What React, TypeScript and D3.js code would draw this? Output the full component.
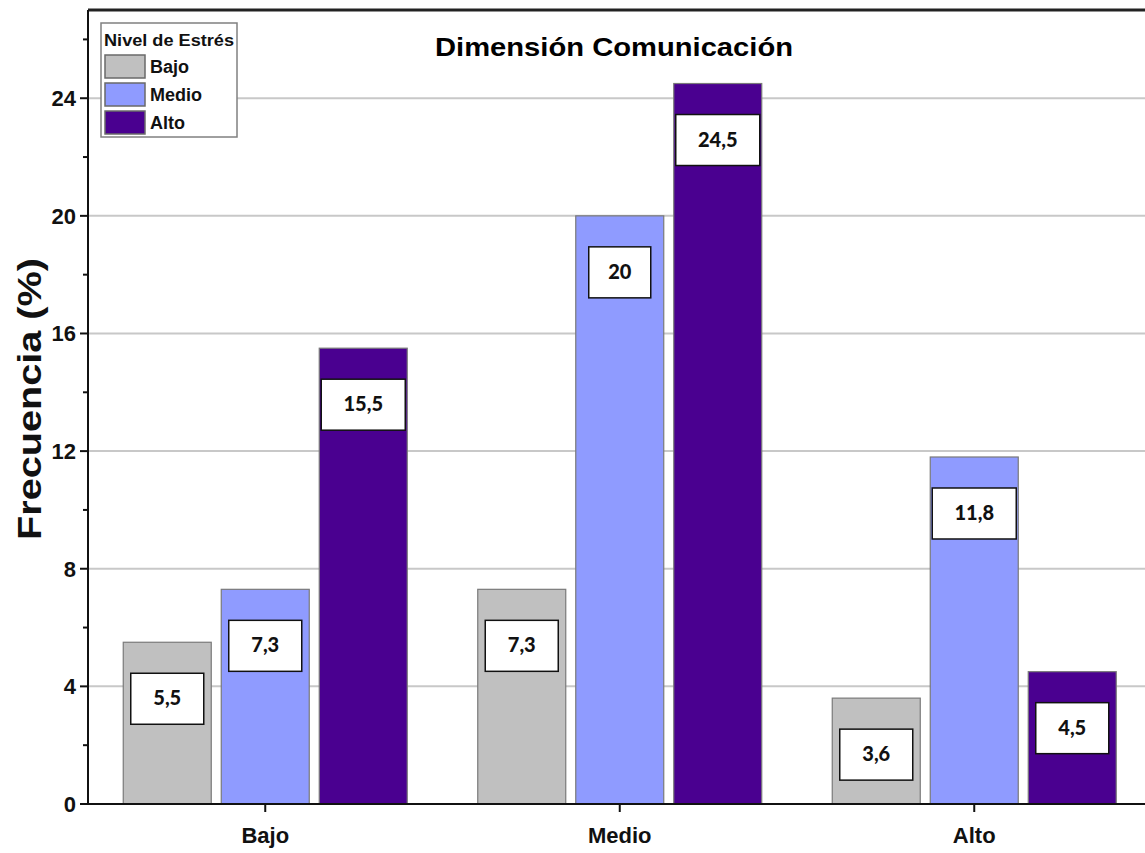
import React from 'react';
import * as d3 from 'd3';

// Dimensión Comunicación: frecuencia (%) por nivel
const categories = ['Bajo', 'Medio', 'Alto'];
const stressLevels = ['Bajo', 'Medio', 'Alto'];
const bajoValues = [5.5, 7.3, 3.6];
const medioValues = [7.3, 20, 11.8];
const altoValues = [15.5, 24.5, 4.5];
const majorTicks = [0, 4, 8, 12, 16, 20, 24];
const minorTicks = [2, 6, 10, 14, 18, 22, 26];

const seriesValues = [bajoValues, medioValues, altoValues];
const fills = ['#c0c0c0', '#8f9bff', '#4a0090'];

const W = 1145;
const H = 853;
const left = 88;
const top = 10;
const bottom = 804;
const step = 354.5;

const App: React.FC = () => {
    const x = d3.scaleBand<string>().domain(categories).range([left, left + step * 3]);
    const groupW = 284;
    const xInner = d3.scaleBand<string>().domain(stressLevels).range([0, groupW]).paddingInner(10 / 98);
    const y = d3.scaleLinear().domain([0, 27]).range([bottom, top]);

    const bars = categories.flatMap((c, ci) =>
        stressLevels.map((s, si) => {
            const v = seriesValues[si][ci];
            const x0 = (x(c) || 0) + x.bandwidth() / 2 - groupW / 2 + (xInner(s) || 0);
            return { key: `${c}-${s}`, v, x0, si };
        })
    );

    const font = '"Liberation Sans", Arial, sans-serif';

    return (
        <svg width={W} height={H} style={{ position: 'absolute', left: 0, top: 0, background: '#fff' }}>
            {/* grid */}
            {majorTicks.filter(t => t > 0).map(t => (
                <line key={`g${t}`} x1={left} x2={W} y1={y(t)} y2={y(t)} stroke="#c8c8c8" strokeWidth={2} />
            ))}

            {/* bars */}
            {bars.map(b => (
                <rect key={b.key} x={b.x0} y={y(b.v)} width={xInner.bandwidth()} height={bottom - y(b.v)}
                    fill={fills[b.si]} stroke="#7a7a7a" strokeWidth={1.2} />
            ))}

            {/* value labels */}
            {bars.map(b => {
                const txt = String(b.v).replace('.', ',');
                const bw = 40 + txt.length * 11;
                const cx = b.x0 + xInner.bandwidth() / 2;
                const ty = y(b.v) + 31;
                return (
                    <g key={`l${b.key}`}>
                        <rect x={cx - bw / 2} y={ty} width={bw} height={51} fill="#fff" stroke="#111" strokeWidth={1.5} />
                        <text x={cx} y={ty + 25} dy="0.35em" textAnchor="middle"
                            style={{ fontFamily: 'Lato, "Open Sans", sans-serif', fontWeight: 900, fontSize: 20, fill: '#111' }}>
                            {txt}
                        </text>
                    </g>
                );
            })}

            {/* axes */}
            <line x1={left} x2={W} y1={top} y2={top} stroke="#222" strokeWidth={3} />
            <line x1={left} x2={left} y1={top} y2={bottom} stroke="#111" strokeWidth={2} />
            <line x1={left} x2={W} y1={bottom} y2={bottom} stroke="#111" strokeWidth={2} />

            {majorTicks.map(t => (
                <g key={`t${t}`}>
                    <line x1={left - 8} x2={left} y1={y(t)} y2={y(t)} stroke="#111" strokeWidth={2} />
                    <text x={left - 12} y={y(t)} dy="0.36em" textAnchor="end"
                        style={{ fontFamily: font, fontWeight: 'bold', fontSize: 22, fill: '#111' }}>{t}</text>
                </g>
            ))}
            {minorTicks.map(t => (
                <line key={`m${t}`} x1={left - 5} x2={left} y1={y(t)} y2={y(t)} stroke="#111" strokeWidth={2} />
            ))}

            {categories.map(c => {
                const cx = (x(c) || 0) + x.bandwidth() / 2;
                return (
                    <g key={`x${c}`}>
                        <line x1={cx} x2={cx} y1={bottom} y2={bottom + 8} stroke="#111" strokeWidth={2} />
                        <text x={cx} y={843} textAnchor="middle"
                            style={{ fontFamily: font, fontWeight: 'bold', fontSize: 22, fill: '#111' }}>{c}</text>
                    </g>
                );
            })}

            <text transform={`translate(41,${399}) rotate(-90)`} textAnchor="middle" textLength={282} lengthAdjust="spacingAndGlyphs"
                style={{ fontFamily: font, fontWeight: 'bold', fontSize: 34, fill: '#111' }}>Frecuencia (%)</text>

            <text x={614} y={56} textAnchor="middle" textLength={358} lengthAdjust="spacingAndGlyphs"
                style={{ fontFamily: font, fontWeight: 'bold', fontSize: 25, fill: '#000' }}>Dimensión Comunicación</text>

            {/* legend */}
            <g>
                <rect x={101} y={23} width={136} height={114} fill="#fff" stroke="#808080" strokeWidth={1.5} />
                <text x={104} y={46} style={{ fontFamily: font, fontWeight: 'bold', fontSize: 17, fill: '#111' }}
                    textLength={130} lengthAdjust="spacingAndGlyphs">Nivel de Estrés</text>
                {stressLevels.map((s, i) => (
                    <g key={`lg${s}`} transform={`translate(105,${55 + i * 28})`}>
                        <rect width={40} height={23} fill={fills[i]} stroke="#6a6a6a" strokeWidth={1.5} />
                        <text x={45} y={12} dy="0.35em" style={{ fontFamily: font, fontWeight: 'bold', fontSize: 18, fill: '#111' }}>{s}</text>
                    </g>
                ))}
            </g>
        </svg>
    );
};

export default App;
